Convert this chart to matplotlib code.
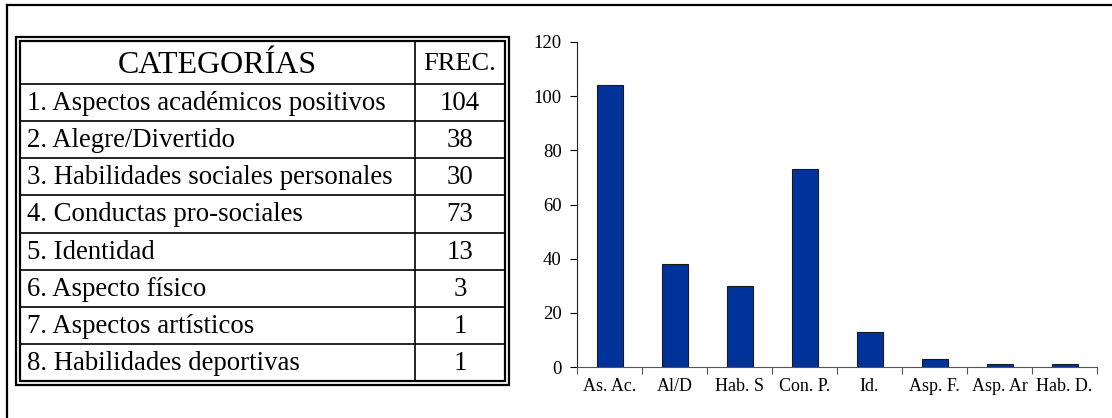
import matplotlib.pyplot as plt
from matplotlib.patches import Rectangle

plt.rcParams['font.family'] = ['Liberation Serif', 'DejaVu Serif']

# Datos de la tabla y del gráfico
categorias = [
    '1. Aspectos académicos positivos',
    '2. Alegre/Divertido',
    '3. Habilidades sociales personales',
    '4. Conductas pro-sociales',
    '5. Identidad',
    '6. Aspecto físico',
    '7. Aspectos artísticos',
    '8. Habilidades deportivas',
]
frecuencias = [104, 38, 30, 73, 13, 3, 1, 1]
abreviaturas = ['As. Ac.', 'Al/D', 'Hab. S', 'Con. P.', 'Id.',
                'Asp. F.', 'Asp. Ar', 'Hab. D.']

W, H = 1112, 418
fig = plt.figure(figsize=(W / 100, H / 100), dpi=100)

# Capa en coordenadas de píxel para marco y tabla
bg = fig.add_axes([0, 0, 1, 1])
bg.set_xlim(0, W)
bg.set_ylim(H, 0)
bg.axis('off')

# Marco de la página
bg.plot([7, W], [5, 5], color='black', lw=1.6)
bg.plot([7, 7], [5, H], color='black', lw=1.6)

# Tabla con doble borde
x0, x1, xdiv = 20, 505, 415
y0, y1 = 41, 381
yhead = 84
fila = (y1 - yhead) / len(categorias)

bg.add_patch(Rectangle((16, 37), 493, 348, fill=False, ec='black', lw=1.6))
bg.add_patch(Rectangle((x0, y0), x1 - x0, y1 - y0, fill=False, ec='black', lw=1.6))
bg.plot([xdiv, xdiv], [y0, y1], color='black', lw=1.2)
bg.plot([x0, x1], [yhead, yhead], color='black', lw=1.2)

bg.text((x0 + xdiv) / 2, (y0 + yhead) / 2 + 3, 'CATEGORÍAS', fontsize=23,
        ha='center', va='center')
bg.text((xdiv + x1) / 2, (y0 + yhead) / 2 + 1, 'FREC.', fontsize=19,
        ha='center', va='center')

for i, (cat, f) in enumerate(zip(categorias, frecuencias)):
    ytop = yhead + i * fila
    if i > 0:
        bg.plot([x0, x1], [ytop, ytop], color='black', lw=1.2)
    yc = ytop + fila / 2 + 1
    bg.text(x0 + 7, yc, cat, fontsize=19.3, ha='left', va='center')
    bg.text((xdiv + x1) / 2, yc, str(f), fontsize=19.3, ha='center', va='center')

# Gráfico de barras
ax = fig.add_axes([577 / W, 1 - 367 / H, (1097 - 577) / W, (367 - 42) / H])
pos = list(range(len(frecuencias)))
ax.bar(pos, frecuencias, width=0.4, color='#003399', edgecolor='#1a1a1a',
       linewidth=0.8)
ax.set_xlim(-0.5, len(frecuencias) - 0.5)
ax.set_ylim(0, 120)
ax.set_yticks(range(0, 121, 20))
ax.set_xticks(pos)
ax.set_xticklabels(abreviaturas, fontsize=13)
ax.set_xticks([p - 0.5 for p in pos] + [len(pos) - 0.5], minor=True)
ax.tick_params(axis='x', which='major', length=0, pad=8)
ax.tick_params(axis='x', which='minor', length=5, color='#555555', width=0.8)
ax.tick_params(axis='y', length=5, width=0.8, labelsize=13.5, pad=6)
for s in ['top', 'right']:
    ax.spines[s].set_visible(False)
ax.spines['bottom'].set_color('#555555')
ax.spines['left'].set_color('#222222')
ax.spines['bottom'].set_linewidth(0.8)
ax.spines['left'].set_linewidth(0.8)

fig.savefig('out.png', dpi=100)
